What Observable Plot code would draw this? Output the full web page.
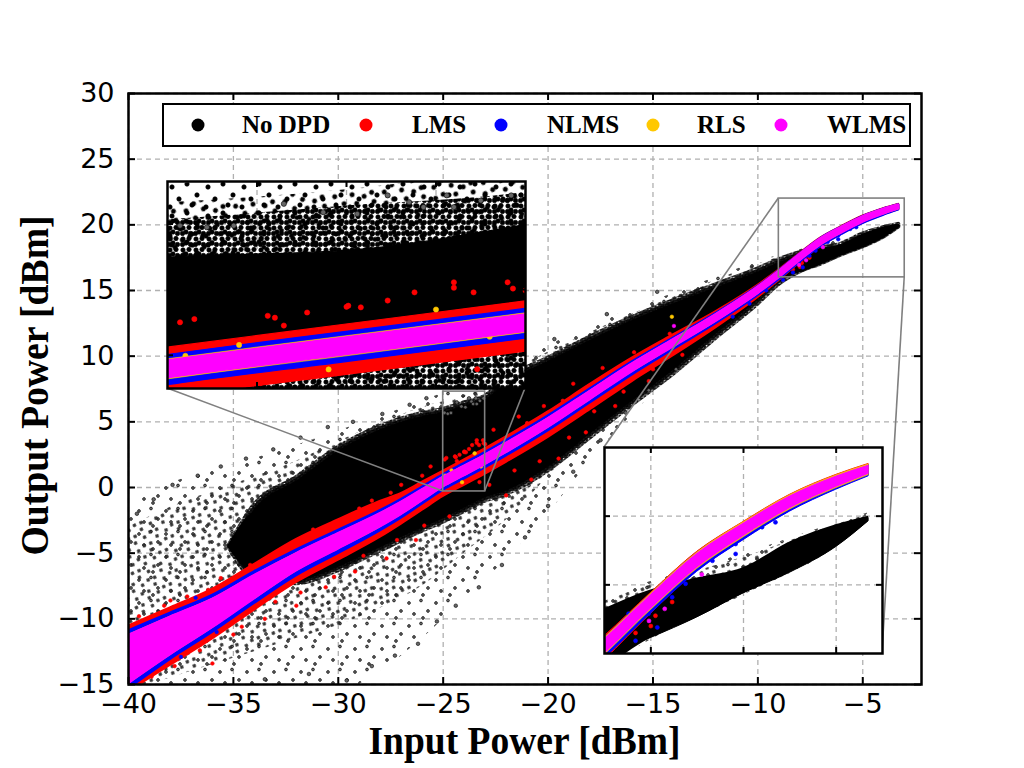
<!DOCTYPE html>
<html><head><meta charset="utf-8">
<script src="https://cdn.jsdelivr.net/npm/d3@7"></script>
<script src="https://cdn.jsdelivr.net/npm/@observablehq/plot@0.6"></script>
<style>
body{margin:0;background:#fff;}
#wrap{position:relative;width:1024px;height:768px;overflow:hidden;background:#fff;}
.inset{position:absolute;line-height:0;}
.inset svg{display:block;overflow:visible;}
</style>
</head><body><div id="wrap"></div>
<script>
// ---------- axes ----------
const xTicks = [-40,-35,-30,-25,-20,-15,-10,-5];
const yTicks = [-15,-10,-5,0,5,10,15,20,25,30];
const xDomain = [-40, -2.2];
const yDomain = [-15, 30];
const xLabel = "Input Power [dBm]";
const yLabel = "Output Power [dBm]";

// ---------- legend ----------
const seriesNames  = ["No DPD","LMS","NLMS","RLS","WLMS"];
const seriesColors = ["#000000","#ff0000","#0000ff","#ffc800","#ff00ff"];

// ---------- No DPD cloud (envelopes) ----------
const haloX  = [-40,-38,-36,-34,-32,-30,-28,-26,-24,-22,-20,-18,-16,-14,-12,-10,-8,-6,-4,-3.3];
const haloLo = [-15.5,-15.5,-15.5,-15.5,-15.5,-15.5,-14,-11.5,-8.5,-5.5,-2,2,5.5,8.8,11.8,14.6,16.4,17.7,19.1,19.85];
const haloHi = [-1.5,0.3,1.3,2.2,3.2,4.3,5.4,6.6,7.8,9.3,10.8,12.3,13.6,14.8,16.0,17.2,18.1,18.9,19.8,20.1];
const midLo  = [-15.5,-14.5,-13.5,-12.5,-11.5,-10.5,-9.2,-7.5,-5.0,-2.5,0.8,4.0,7.0,9.8,12.1,14.6,16.4,17.7,19.1,19.85];
const midHi  = [-3.0,-1.5,-0.3,0.8,2.0,3.5,4.9,6.1,7.0,8.7,10.3,11.8,13.2,14.5,15.8,17.0,18.0,18.8,19.75,20.05];

const coreX   = [-35.2,-34,-32,-30,-28,-26,-25,-24,-23,-22,-20,-18,-16,-14,-12,-10,-9,-8,-7,-6,-5,-4,-3.3];
const coreLo  = [-4.5,-6.3,-6.2,-4.8,-3.3,-1.6,0.1,0.9,1.7,2.5,4.4,6.5,8.6,10.5,12.5,14.6,15.9,16.45,17.05,17.75,18.35,19.1,19.85];
const coreHi  = [-4.5,-2.0,-1.2,0.8,2.4,3.9,4.5,4.75,5.7,7.0,8.6,10.3,11.9,13.4,14.8,16.1,16.9,17.6,18.05,18.4,19.15,19.7,19.95];
const denseLo = [-4.5,-6.9,-7.3,-6.3,-4.8,-3.3,-2.6,-1.8,-1.0,-0.5,1.3,3.8,6.3,8.7,11.4,14.0,15.5,16.45,17.05,17.75,18.35,19.1,19.85];
const denseHi = [-4.5,-1.4,0.7,3.0,4.6,5.6,5.9,6.4,6.9,8.2,9.8,11.4,12.9,14.2,15.4,16.6,17.3,17.85,18.2,18.5,19.25,19.75,20.0];

const noDpdOut = [
 [-39.6,-2.0],[-38.8,-0.9],[-37.9,0.2],[-36.7,0.9],[-35.6,1.6],[-34.4,2.2],[-33.1,2.9],[-31.8,3.8],[-30.5,4.6],[-29.3,5.0],[-27.9,5.6],[-26.6,6.3],[-25.8,6.8],
 [-33.5,-14.6],[-31.4,-14.2],[-29.6,-14.7],[-28.4,-13.6],[-27.3,-12.8],[-26.2,-11.9],[-25.3,-10.2],[-24.4,-9.0],[-23.3,-7.6],[-22.2,-5.9],[-21.1,-3.8],[-20.0,-1.4],[-18.8,1.2],[-17.5,3.6],[-16.3,5.7],[-15.2,7.4],[-13.9,9.0],
 [-21.8,9.7],[-19.7,11.3],[-17.2,13.2],[-14.8,14.9],
 [-24.35,6.48],[-23.77,6.79],[-23.44,6.79],[-23.08,6.79],[-23.25,6.6],[-23.65,6.54],[-24.13,6.17],[-24.93,5.68],[-24.78,5.62],[-24.63,5.68],[-23.94,6.11],[-23.57,6.36],[-23.4,6.36]
];

// ---------- DPD bands ----------
const bandX  = [-40,-38,-36,-34,-32,-30,-28,-27,-26,-25,-24,-23,-22,-20,-18,-16,-14,-12,-10,-9,-8,-7,-6,-5,-4,-3.3];
const lmsLo  = [-15.5,-13.5,-11.5,-9.3,-7.2,-5.5,-3.75,-2.75,-1.7,-0.65,0.2,1.05,1.95,3.85,5.95,8.1,10.1,12.2,14.5,15.8,17.15,18.4,19.32,20.15,20.8,21.18];
const lmsHi  = [-10.6,-9.2,-7.8,-5.9,-4.0,-2.5,-1.1,-0.5,0.35,1.2,2.05,2.9,3.8,5.7,7.8,9.8,11.6,13.35,15.35,16.5,17.76,18.96,19.83,20.62,21.2,21.52];
const nlmsLo = [-15.3,-13.05,-11.0,-8.8,-6.7,-5.0,-3.27,-2.3,-1.23,-0.18,0.67,1.53,2.43,4.35,6.47,8.59,10.56,12.5,14.65,15.85,17.16,18.38,19.3,20.13,20.77,21.16];
const nlmsHi = [-10.95,-9.6,-8.25,-6.45,-4.8,-3.3,-1.8,-0.95,-0.02,0.93,1.78,2.62,3.52,5.4,7.46,9.52,11.36,13.2,15.26,16.45,17.73,18.93,19.8,20.59,21.17,21.49];
const rlsLo  = [-14.94,-12.74,-10.69,-8.49,-6.36,-4.69,-3.01,-2.07,-1.02,0.03,0.88,1.74,2.64,4.56,6.68,8.8,10.72,12.64,14.75,15.95,17.26,18.46,19.38,20.19,20.81,21.19];
const rlsHi  = [-11.26,-9.86,-8.51,-6.71,-5.04,-3.51,-1.99,-1.13,-0.18,0.77,1.62,2.46,3.36,5.24,7.32,9.4,11.28,13.16,15.25,16.45,17.74,18.94,19.82,20.61,21.19,21.51];
const wlmsLo = [-14.9,-12.7,-10.65,-8.45,-6.32,-4.65,-2.97,-2.03,-0.98,0.07,0.92,1.78,2.68,4.6,6.72,8.84,10.76,12.68,14.79,15.99,17.3,18.5,19.42,20.23,20.85,21.23];
const wlmsHi = [-11.3,-9.9,-8.55,-6.75,-5.08,-3.55,-2.03,-1.17,-0.22,0.73,1.58,2.42,3.32,5.2,7.28,9.36,11.24,13.12,15.21,16.41,17.7,18.9,19.78,20.57,21.15,21.47];

const lmsOut = [
 [-39.5,-9.8],[-38.9,-14.4],[-38.3,-9.0],[-37.8,-13.6],[-37.2,-8.3],[-36.6,-12.4],[-36.2,-7.8],[-35.6,-6.9],[-35.0,-11.2],[-34.2,-5.9],[-33.5,-10.0],[-32.8,-4.8],[-32.0,-9.0],[-31.2,-3.2],[-30.6,-7.6],[-29.8,-2.4],[-29.2,-6.4],[-28.4,-1.0],[-27.7,-5.4],[-27.0,0.2],[-26.3,-4.0],[-25.6,1.6],[-24.7,-2.2],[-24.0,2.7],[-23.4,3.4],[-22.6,4.4],[-22.0,-0.6],[-21.4,5.4],[-20.8,0.6],[-20.2,6.2],[-19.5,2.2],[-18.8,7.9],[-18.2,4.2],[-17.4,9.1],[-16.8,6.2],[-15.9,10.3],[-15.2,8.1],[-14.2,11.7],[-13.6,10.1],[-12.6,12.0],[-11.8,12.6],[-10.8,14.0],
 [-39.0,-11.8],[-38.0,-8.6],[-37.0,-10.9],[-36.0,-13.4],[-35.2,-8.9],[-34.6,-10.6],[-33.8,-7.4],[-33.0,-8.7],[-31.8,-8.0],[-31.0,-4.1],[-30.2,-6.8],[-29.4,-4.2],[-28.8,-5.2],[-28.0,-2.3],[-27.2,-4.0],[-26.6,-0.2],[-25.9,-2.9],[-22.8,0.2],[-21.6,1.3],[-20.4,2.0],[-19.0,3.8],[-17.8,5.8],[-16.4,7.3],[-15.0,9.0],
 [-30.5,-3.0],[-29.0,-1.6],[-27.5,-0.4],[-26.0,0.9],[-24.4,2.3],[-23.0,3.3],[-21.0,4.9],[-19.3,6.6],[-17.0,8.6],
 [-24.93,2.13],[-24.85,2.25],[-24.44,2.37],[-24.35,2.01],[-24.22,2.49],[-23.99,2.74],[-23.92,2.68],[-23.77,2.93],[-23.62,3.23],[-23.4,3.6],[-23.29,3.23],[-23.07,3.37],[-23.1,3.6],
 [-24.82,0.17],[-24.48,-0.1],[-23.99,0.54],[-23.74,0.9],[-23.36,1.15],[-23.14,1.39],[-23.27,0.41],
 [-7.9,17.1],[-8.33,16.6],[-8.0,16.8],[-7.54,17.5],[-5.52,20.1]
];
const nlmsOut = [[-39.3,-14.0],[-38.5,-10.2],[-37.5,-12.9],[-36.8,-8.4],[-35.8,-11.0],[-11.2,13.0],[-10.4,14.0],[-9.6,15.0],[-8.8,15.8],[-8.76,16.47],[-8.62,16.76],[-8.48,17.16],[-8.33,16.37],[-8.05,17.16],[-7.86,16.76],[-7.54,17.64],[-7.25,18.03],[-6.67,18.7],[-6.17,18.9],[-6.17,19.19],[-5.6,19.68],[-5.31,19.82]];
const rlsOut  = [[-24.6,1.3],[-23.5,2.6],[-24.1,0.4],[-14.1,13.0],[-24.9,0.9],[-23.2,1.6]];
const wlmsOut = [[-8.04,16.95],[-7.7,17.3],[-14.0,12.3],[-6.9,18.3]];

// ---------- zoom insets ----------
const inset1X = [-25, -23], inset1Y = [-0.3, 7.3];
const inset1XTicks = [-24.5, -24, -23.5], inset1YTicks = [0.92, 3.33, 5.74];
const inset2X = [-9, -3], inset2Y = [16, 22];
const inset2XTicks = [-8, -6, -4], inset2YTicks = [18, 20];

// ---------- build tables ----------
const band = (xs, lo, hi) => xs.map((x, i) => ({x, lo: lo[i], hi: hi[i]}));
const pts = (arr) => arr.map(([x, y]) => ({x, y}));
const halo = band(haloX, haloLo, haloHi);
const mid = band(haloX, midLo, midHi);
const dense = band(coreX, denseLo, denseHi);
const core = band(coreX, coreLo, coreHi);
const lms = band(bandX, lmsLo, lmsHi), nlms = band(bandX, nlmsLo, nlmsHi);
const rls = band(bandX, rlsLo, rlsHi), wlms = band(bandX, wlmsLo, wlmsHi);
const [cBlack, cRed, cBlue, cYel, cMag] = seriesColors;

const area = (data, fill, stroke, sw) => Plot.areaY(data, {x: "x", y1: "lo", y2: "hi", fill, stroke: stroke || "none", strokeWidth: sw || 0, curve: "monotone-x", clip: true});
const dots = (arr, fill, r, stroke) => Plot.dot(pts(arr), {x: "x", y: "y", r, fill, stroke: stroke || fill, strokeWidth: 0.6, clip: true});

function layers(v) {
  return [
    area(halo, `url(#${v.halo})`),
    area(mid, `url(#${v.mid})`),
    area(dense, v.dense, v.denseStroke, v.denseSw),
    area(core, cBlack, cBlack, v.sw),
    dots(noDpdOut, "#666", v.r, "#000"),
    area(lms, cRed, cRed, v.sw), dots(lmsOut, cRed, v.r),
    area(nlms, cBlue, cBlue, v.sw), dots(nlmsOut, cBlue, v.r),
    area(rls, cYel, cYel, v.sw * 0.5), dots(rlsOut, cYel, v.r),
    area(wlms, cMag, cMag, v.sw), dots(wlmsOut, cMag, v.r)
  ];
}

const gridStyle = {stroke: "#b0b0b0", strokeOpacity: 1, strokeWidth: 1.3, strokeDasharray: "5,4"};
const M = {top: 93, right: 103, bottom: 84, left: 128};
const innerW = 1024 - M.left - M.right, innerH = 768 - M.top - M.bottom;

const mainPlot = Plot.plot({
  width: 1024, height: 768,
  marginTop: M.top, marginRight: M.right, marginBottom: M.bottom, marginLeft: M.left,
  x: {domain: xDomain}, y: {domain: yDomain},
  style: {fontFamily: "'DejaVu Sans', sans-serif", fontSize: "27px", background: "white", color: "black"},
  marks: [
    Plot.gridX({ticks: xTicks, ...gridStyle}),
    Plot.gridY({ticks: yTicks, ...gridStyle}),
    ...layers({halo: "pSparse", mid: "pMid", dense: "#000", denseStroke: "url(#pEdge)", denseSw: 5, sw: 3, r: 1.8}),
    Plot.rect([{x1: inset1X[0], x2: inset1X[1], y1: inset1Y[0], y2: inset1Y[1]}, {x1: inset2X[0], x2: inset2X[1], y1: inset2Y[0], y2: inset2Y[1]}],
      {x1: "x1", x2: "x2", y1: "y1", y2: "y2", fill: "none", stroke: "#808080", strokeWidth: 1.6}),
    Plot.frame({stroke: "black", strokeWidth: 2.5}),
    Plot.ruleX(xTicks, {stroke: "black", strokeWidth: 2, insetTop: innerH - 7}),
    Plot.ruleX(xTicks, {stroke: "black", strokeWidth: 2, insetBottom: innerH - 7}),
    Plot.ruleY(yTicks, {stroke: "black", strokeWidth: 2, insetLeft: innerW - 7}),
    Plot.ruleY(yTicks, {stroke: "black", strokeWidth: 2, insetRight: innerW - 7}),
    Plot.axisX({ticks: xTicks, tickSize: 0, tickPadding: 9, label: null, fontSize: 27, tickFormat: d3.format("d")}),
    Plot.axisY({ticks: yTicks, tickSize: 0, tickPadding: 14, label: null, fontSize: 27, tickFormat: d3.format("d")})
  ]
});

const svg = d3.select(mainPlot);
const dotsPat = (id, w, h, pos, r, fill, stroke, rot) =>
  `<pattern id="${id}" patternUnits="userSpaceOnUse" width="${w}" height="${h}"${rot ? ` patternTransform="rotate(${rot})"` : ""}><g fill="${fill}" stroke="${stroke}" stroke-width="0.7">` +
  pos.map(([cx, cy]) => `<circle cx="${cx}" cy="${cy}" r="${r}"/>`).join("") + `</g></pattern>`;
svg.insert("defs", ":first-child").html(
  dotsPat("pSparse", 27, 23, [[4,5],[16,2.5],[23,13],[9,16],[18,20]], 1.4, "#707070", "#000", 0) +
  dotsPat("pMid", 17, 15, [[3,3],[11,6],[6,11],[14,12]], 1.4, "#505050", "#000", 23) +
  dotsPat("pEdge", 7, 6, [[2,2],[5.5,1.6],[3.5,4.5],[6,5],[1,5]], 1.3, "#222", "#000", 11) +
  dotsPat("qSparse", 36, 29, [[5,6],[20,3],[30,14],[12,18],[25,24],[3,26]], 2.2, "#000", "#000", 0) +
  dotsPat("qMid", 23, 19, [[4,4],[15,8],[9,14],[20,16]], 2.2, "#000", "#000", 17) +
  dotsPat("qDense", 13, 11, [[3,3],[9,2.5],[6,7],[10.5,8.5],[2.5,8.5]], 2.2, "#000", "#000", 0)
);

const sx = mainPlot.scale("x"), sy = mainPlot.scale("y");

// inset layout as fractions of the main axes box
const insetLayout = [
  {fx: 0.0492, fy: 0.149, fw: 0.4515, fh: 0.350, xd: inset1X, yd: inset1Y, xt: inset1XTicks, yt: inset1YTicks,
   v: {halo: "qSparse", mid: "qMid", dense: "url(#qDense)", sw: 1.2, r: 2.6}, links: [["bl","bl"],["br","br"]]},
  {fx: 0.6003, fy: 0.599, fw: 0.3506, fh: 0.3486, xd: inset2X, yd: inset2Y, xt: inset2XTicks, yt: inset2YTicks,
   v: {halo: "pSparse", mid: "pMid", dense: "#000", sw: 1, r: 2}, links: [["tl","tl"],["br","br"]]}
];

const wrap = document.getElementById("wrap");
wrap.appendChild(mainPlot);

const lineG = svg.append("g").attr("stroke", "#808080").attr("stroke-width", 1.6);
for (const L of insetLayout) {
  const left = Math.round(M.left + L.fx * innerW), top = Math.round(M.top + L.fy * innerH);
  const w = Math.round(L.fw * innerW), h = Math.round(L.fh * innerH);
  const ic = {tl: [left, top], tr: [left + w, top], bl: [left, top + h], br: [left + w, top + h]};
  const rc = {tl: [sx.apply(L.xd[0]), sy.apply(L.yd[1])], tr: [sx.apply(L.xd[1]), sy.apply(L.yd[1])],
              bl: [sx.apply(L.xd[0]), sy.apply(L.yd[0])], br: [sx.apply(L.xd[1]), sy.apply(L.yd[0])]};
  for (const [a, b] of L.links) {
    lineG.append("line").attr("x1", ic[a][0]).attr("y1", ic[a][1]).attr("x2", rc[b][0]).attr("y2", rc[b][1]);
  }
  const p = Plot.plot({
    width: w, height: h, margin: 0,
    x: {domain: L.xd, axis: null}, y: {domain: L.yd, axis: null},
    style: {background: "white", overflow: "visible"},
    marks: [
      Plot.gridX({ticks: L.xt, ...gridStyle}),
      Plot.gridY({ticks: L.yt, ...gridStyle}),
      ...layers(L.v),
      Plot.frame({stroke: "black", strokeWidth: 2.5}),
      Plot.ruleX(L.xt, {stroke: "black", strokeWidth: 2, insetTop: h - 6}),
      Plot.ruleX(L.xt, {stroke: "black", strokeWidth: 2, insetBottom: h - 6}),
      Plot.ruleY(L.yt, {stroke: "black", strokeWidth: 2, insetLeft: w - 6}),
      Plot.ruleY(L.yt, {stroke: "black", strokeWidth: 2, insetRight: w - 6})
    ]
  });
  const div = document.createElement("div");
  div.className = "inset";
  div.style.left = left + "px"; div.style.top = top + "px";
  div.appendChild(p);
  wrap.appendChild(div);
}

// axis titles
const serif = "'Liberation Serif', 'Times New Roman', serif";
svg.append("text").attr("x", M.left + innerW / 2).attr("y", 754).attr("text-anchor", "middle")
  .attr("font-family", serif).attr("font-weight", "bold").attr("font-size", 39)
  .attr("textLength", 312).attr("lengthAdjust", "spacingAndGlyphs").attr("fill", "black").text(xLabel);
svg.append("text").attr("transform", `translate(48,${M.top + innerH / 2 - 3}) rotate(-90)`).attr("text-anchor", "middle")
  .attr("font-family", serif).attr("font-weight", "bold").attr("font-size", 39)
  .attr("textLength", 340).attr("lengthAdjust", "spacingAndGlyphs").attr("fill", "black").text(yLabel);

// legend
const lg = svg.append("g");
lg.append("rect").attr("x", 163).attr("y", 104).attr("width", 747).attr("height", 42)
  .attr("fill", "white").attr("stroke", "black").attr("stroke-width", 2);
const legendDotX = [198, 366, 501, 653, 781];
const legendTextX = [242, 412, 547, 697, 827];
seriesNames.forEach((name, i) => {
  lg.append("circle").attr("cx", legendDotX[i]).attr("cy", 125).attr("r", 6.5).attr("fill", seriesColors[i]);
  lg.append("text").attr("x", legendTextX[i]).attr("y", 133).attr("text-anchor", "start").attr("font-family", serif)
    .attr("font-weight", "bold").attr("font-size", 25).attr("fill", "black").text(name);
});
</script></body></html>
